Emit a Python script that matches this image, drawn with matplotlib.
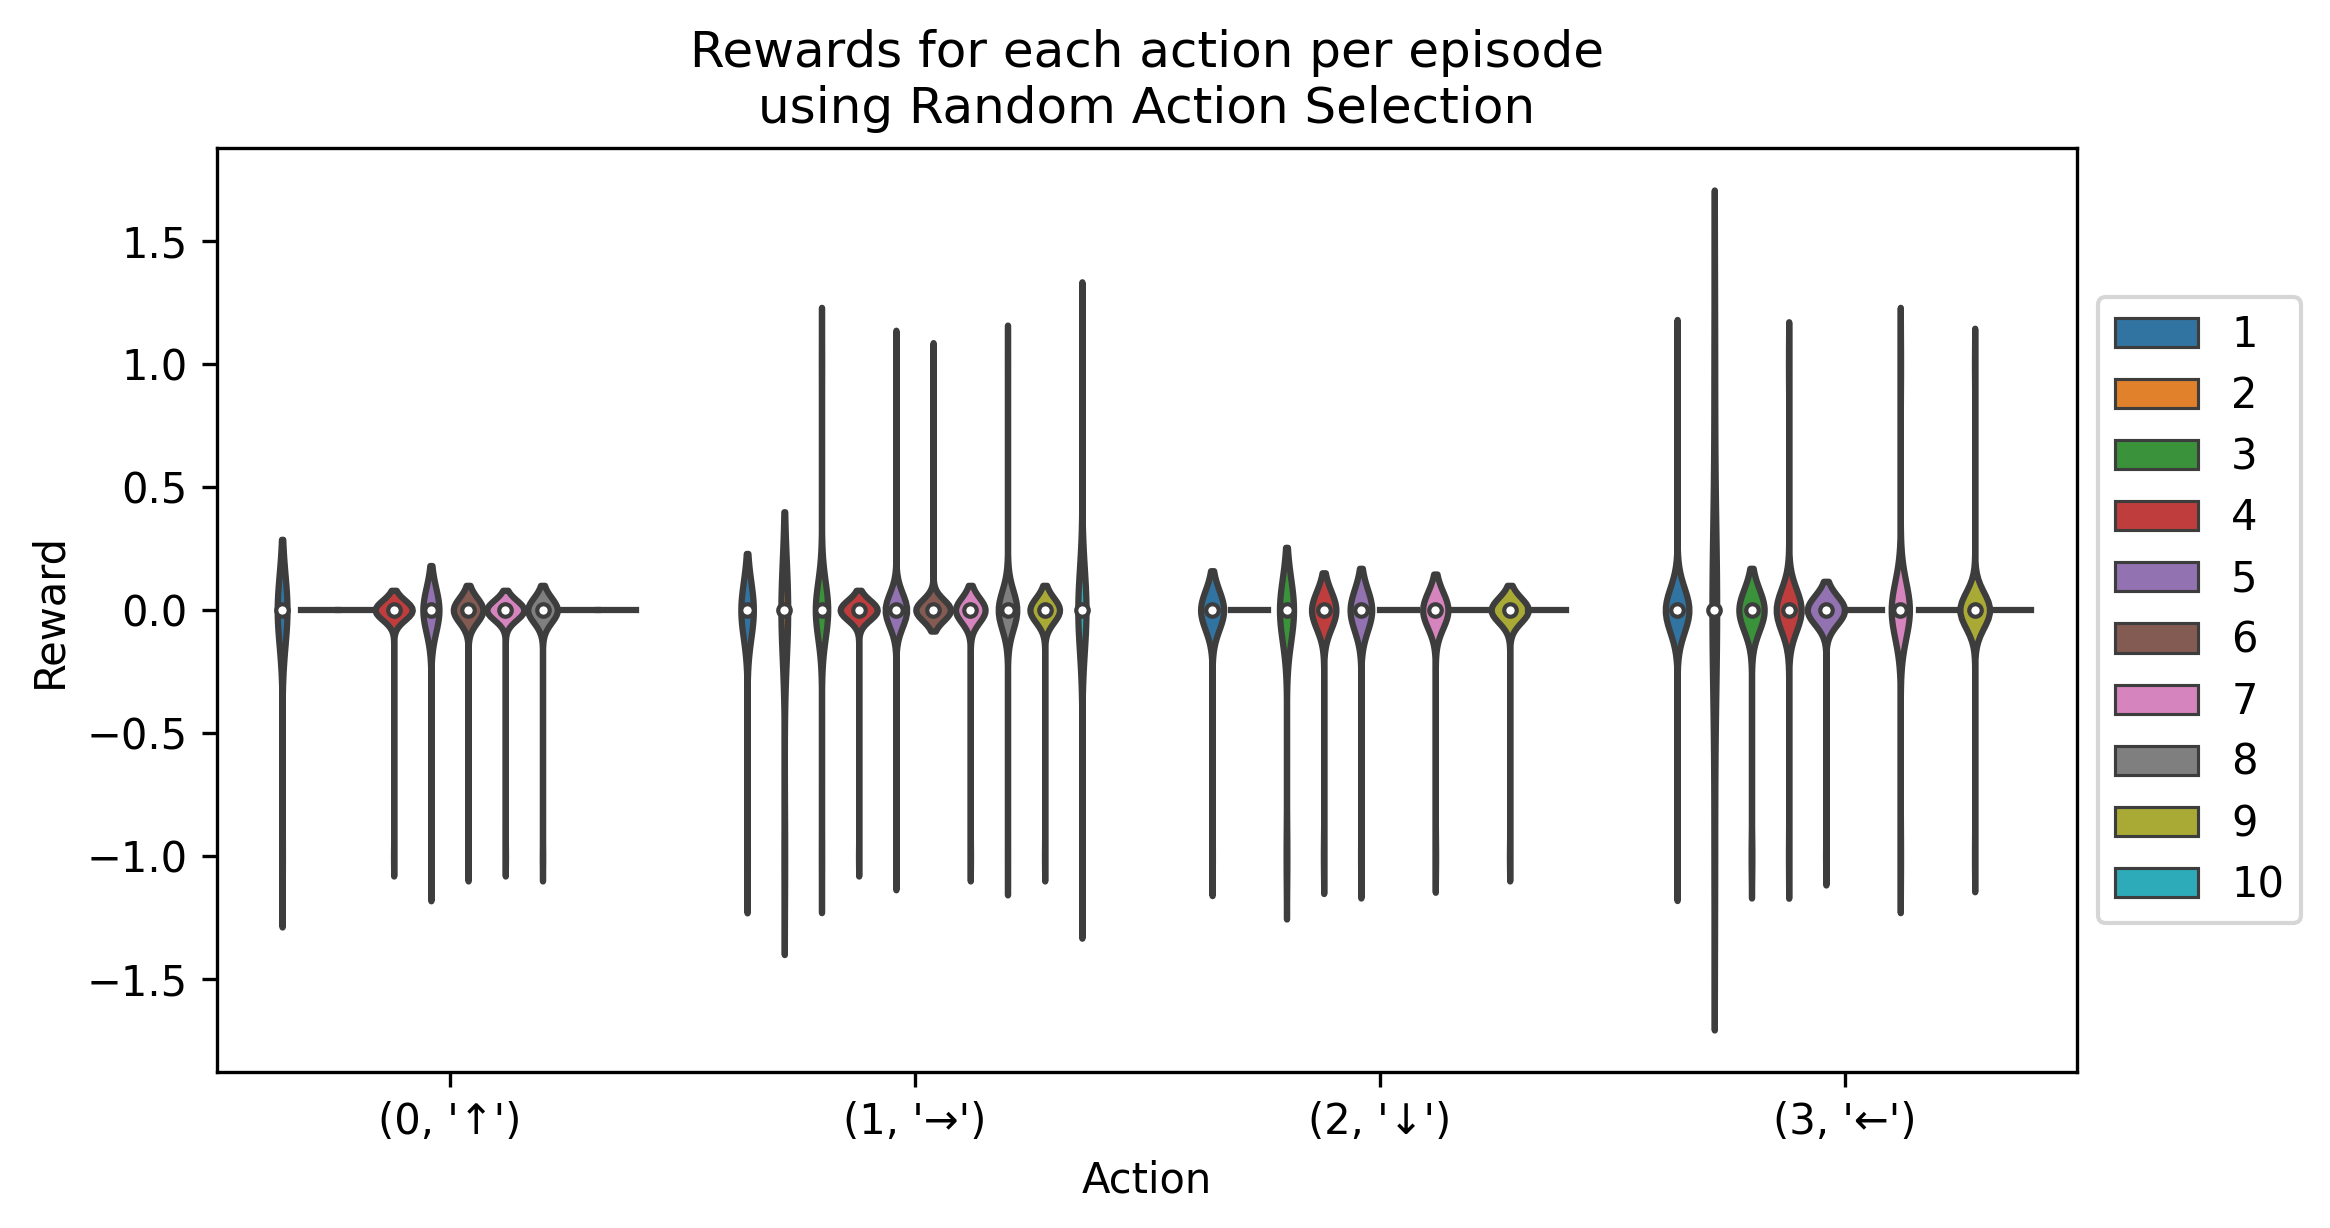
import colorsys
import matplotlib
matplotlib.use("Agg")
import matplotlib.pyplot as plt
import matplotlib.colors as mcolors
import numpy as np

# categories
actions = ["(0, '↑')", "(1, '→')", "(2, '↓')", "(3, '←')"]
episodes = [1, 2, 3, 4, 5, 6, 7, 8, 9, 10]

# number of steps with reward 0, per action (rows) and episode (columns)
zero_steps = [
    [15, 20, 20, 98, 30, 71, 98, 71, 20, 20],
    [21, 9, 35, 98, 75, 89, 71, 61, 71, 20],
    [36, 20, 18, 39, 33, 20, 41, 20, 71, 20],
    [50, 6, 33, 54, 57, 20, 35, 20, 69, 20],
]

# the non-zero rewards seen, per action and episode
nonzero_rewards = [
    [[-1], [], [], [-1], [-1], [-1], [-1], [-1], [], []],
    [[-1], [-1], [1, -1], [-1], [1, -1], [1], [-1], [1, -1], [-1], [1, -1]],
    [[-1], [], [-1], [-1], [-1], [], [-1], [], [-1], []],
    [[1, -1], [1, -1], [-1], [1, -1], [-1], [], [1, -1], [], [1, -1], []],
]

palette = ["#1f77b4", "#ff7f0e", "#2ca02c", "#d62728", "#9467bd",
           "#8c564b", "#e377c2", "#7f7f7f", "#bcbd22", "#17becf"]


def desaturate(c, prop):
    h, l, s = colorsys.rgb_to_hls(*mcolors.to_rgb(c))
    return colorsys.hls_to_rgb(h, l, s * prop)


colors = [desaturate(c, .75) for c in palette]
lum = min(colorsys.rgb_to_hls(*c)[1] for c in colors) * .6
gray = (lum, lum, lum)

lw = 1.5
width = .8
n_hue = len(episodes)
each = width / n_hue
offsets = np.linspace(-width / 2 + each / 2, width / 2 - each / 2, n_hue)
dwidth = width / (2 * n_hue)
gridsize = 100
cut = 2


def kde(data):
    n = data.size
    bw = n ** (-1 / 5) * data.std(ddof=1)
    support = np.linspace(data.min() - cut * bw, data.max() + cut * bw, gridsize)
    z = (support[:, None] - data[None, :]) / bw
    dens = np.exp(-0.5 * z ** 2).sum(axis=1) / (n * bw * np.sqrt(2 * np.pi))
    return support, dens


fig = plt.figure(figsize=(2330 / 300, 1228 / 300), dpi=300)
ax = fig.add_axes([217 / 2330, 1 - 1072 / 1228, 1860 / 2330, 924 / 1228])

for i in range(len(actions)):
    # gather data and densities for this action
    group = []
    for j in range(n_hue):
        data = np.array([0.0] * zero_steps[i][j] + nonzero_rewards[i][j], float)
        if np.unique(data).size == 1:
            group.append((data, None, None))
        else:
            s, d = kde(data)
            group.append((data, s, d))
    max_d = max(g[2].max() for g in group if g[2] is not None)

    for j, (data, support, dens) in enumerate(group):
        at = i + offsets[j]
        if support is None:
            val = data[0]
            ax.plot([at - dwidth, at + dwidth], [val, val], color=gray, linewidth=lw)
            continue
        dens = dens / max_d
        ax.fill_betweenx(support, at - dens * dwidth, at + dens * dwidth,
                         facecolor=colors[j], edgecolor=gray, linewidth=lw)
        q25, q50, q75 = np.percentile(data, [25, 50, 75])
        wl = 1.5 * (q75 - q25)
        h1 = np.min(data[data >= (q25 - wl)])
        h2 = np.max(data[data <= (q75 + wl)])
        if h2 > h1:
            ax.plot([at, at], [h1, h2], linewidth=lw, color=gray)
        if q75 > q25:
            ax.plot([at, at], [q25, q75], linewidth=lw * 3, color=gray)
        ax.scatter(at, q50, zorder=3, color="white", edgecolor=gray,
                   s=np.square(lw * 2))

for j, ep in enumerate(episodes):
    rect = plt.Rectangle((0, 0), 0, 0, linewidth=lw / 2, edgecolor=gray,
                         facecolor=colors[j], label=str(ep))
    ax.add_patch(rect)

ax.set_xlim(-.5, len(actions) - .5)
ax.set_xticks(range(len(actions)))
ax.set_xticklabels(actions)
ax.set_xlabel("Action")
ax.set_ylabel("Reward")
ax.set_title("Rewards for each action per episode\nusing Random Action Selection")
ax.legend(loc="center left", bbox_to_anchor=(1, 0.5), labelspacing=0.46)

fig.savefig("out.png", dpi=300)
